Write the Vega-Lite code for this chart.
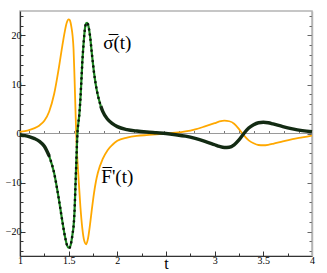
{
  "$schema": "https://vega.github.io/schema/vega-lite/v6.json",
  "width": 292,
  "height": 245,
  "autosize": {"type": "none"},
  "padding": {"left": 20, "top": 11, "right": 15, "bottom": 17},
  "config": {
    "view": {"stroke": "#b4b4b4", "strokeWidth": 1.5},
    "font": "Liberation Serif",
    "axis": {"labelFont": "Liberation Serif", "titleFont": "Liberation Serif", "labelColor": "#000", "titleColor": "#000", "grid": false}
  },
  "datasets": {
    "F": [
      {"t": 1.00, "v": 0.35}, {"t": 1.05, "v": 0.5}, {"t": 1.10, "v": 0.75}, {"t": 1.15, "v": 1.1},
      {"t": 1.20, "v": 1.65}, {"t": 1.25, "v": 2.6}, {"t": 1.30, "v": 4.5}, {"t": 1.35, "v": 8.0},
      {"t": 1.40, "v": 13.5}, {"t": 1.43, "v": 17.3}, {"t": 1.46, "v": 20.8}, {"t": 1.48, "v": 22.6},
      {"t": 1.50, "v": 23.3}, {"t": 1.51, "v": 23.2}, {"t": 1.52, "v": 22.6}, {"t": 1.53, "v": 21.5},
      {"t": 1.54, "v": 20.0}, {"t": 1.55, "v": 17.3}, {"t": 1.56, "v": 11.5}, {"t": 1.57, "v": 4.8},
      {"t": 1.58, "v": -1.5}, {"t": 1.59, "v": -5.5}, {"t": 1.60, "v": -8.6}, {"t": 1.62, "v": -14.8},
      {"t": 1.64, "v": -19.3}, {"t": 1.66, "v": -21.9}, {"t": 1.68, "v": -22.6}, {"t": 1.70, "v": -21.3},
      {"t": 1.72, "v": -18.5}, {"t": 1.74, "v": -15.2}, {"t": 1.76, "v": -12.2}, {"t": 1.78, "v": -9.8},
      {"t": 1.80, "v": -8.0}, {"t": 1.85, "v": -5.2}, {"t": 1.90, "v": -3.4}, {"t": 1.95, "v": -2.3},
      {"t": 2.00, "v": -1.5}, {"t": 2.10, "v": -0.85}, {"t": 2.20, "v": -0.5}, {"t": 2.30, "v": -0.32},
      {"t": 2.40, "v": -0.18}, {"t": 2.50, "v": -0.03}, {"t": 2.60, "v": 0.15}, {"t": 2.70, "v": 0.42},
      {"t": 2.80, "v": 0.85}, {"t": 2.90, "v": 1.45}, {"t": 3.00, "v": 2.1}, {"t": 3.05, "v": 2.45},
      {"t": 3.10, "v": 2.62}, {"t": 3.15, "v": 2.5}, {"t": 3.20, "v": 2.0}, {"t": 3.25, "v": 0.9},
      {"t": 3.30, "v": -0.4}, {"t": 3.35, "v": -1.4}, {"t": 3.40, "v": -2.0}, {"t": 3.45, "v": -2.35},
      {"t": 3.50, "v": -2.4}, {"t": 3.55, "v": -2.3}, {"t": 3.60, "v": -2.1}, {"t": 3.70, "v": -1.6},
      {"t": 3.80, "v": -1.15}, {"t": 3.90, "v": -0.8}, {"t": 4.00, "v": -0.45}
    ],
    "S": [
      {"t": 1.00, "v": -0.3}, {"t": 1.05, "v": -0.45}, {"t": 1.10, "v": -0.7}, {"t": 1.15, "v": -1.05},
      {"t": 1.20, "v": -1.6}, {"t": 1.25, "v": -2.6}, {"t": 1.30, "v": -4.6}, {"t": 1.35, "v": -8.0},
      {"t": 1.40, "v": -13.5}, {"t": 1.43, "v": -17.3}, {"t": 1.46, "v": -20.8}, {"t": 1.48, "v": -22.6},
      {"t": 1.50, "v": -23.3}, {"t": 1.51, "v": -23.3}, {"t": 1.52, "v": -22.8}, {"t": 1.53, "v": -21.8},
      {"t": 1.54, "v": -20.5}, {"t": 1.55, "v": -19.0}, {"t": 1.56, "v": -16.0}, {"t": 1.57, "v": -10.5},
      {"t": 1.58, "v": -5.0}, {"t": 1.59, "v": 0.0}, {"t": 1.60, "v": 2.2}, {"t": 1.61, "v": 4.0},
      {"t": 1.62, "v": 6.8}, {"t": 1.63, "v": 10.5}, {"t": 1.64, "v": 14.5}, {"t": 1.65, "v": 17.5},
      {"t": 1.66, "v": 20.0}, {"t": 1.67, "v": 21.8}, {"t": 1.68, "v": 22.5}, {"t": 1.69, "v": 22.6},
      {"t": 1.70, "v": 22.2}, {"t": 1.71, "v": 21.2}, {"t": 1.72, "v": 19.8}, {"t": 1.74, "v": 16.0},
      {"t": 1.76, "v": 12.5}, {"t": 1.78, "v": 9.8}, {"t": 1.80, "v": 7.8}, {"t": 1.83, "v": 5.6},
      {"t": 1.85, "v": 4.5}, {"t": 1.90, "v": 2.9}, {"t": 1.95, "v": 2.0}, {"t": 2.00, "v": 1.4},
      {"t": 2.10, "v": 0.8}, {"t": 2.20, "v": 0.5}, {"t": 2.30, "v": 0.3}, {"t": 2.40, "v": 0.15},
      {"t": 2.50, "v": 0.0}, {"t": 2.60, "v": -0.25}, {"t": 2.70, "v": -0.55}, {"t": 2.80, "v": -1.0},
      {"t": 2.90, "v": -1.6}, {"t": 3.00, "v": -2.3}, {"t": 3.05, "v": -2.65}, {"t": 3.10, "v": -2.85},
      {"t": 3.15, "v": -2.8}, {"t": 3.20, "v": -2.3}, {"t": 3.25, "v": -1.3}, {"t": 3.30, "v": 0.0},
      {"t": 3.35, "v": 1.1}, {"t": 3.40, "v": 1.8}, {"t": 3.45, "v": 2.2}, {"t": 3.50, "v": 2.3},
      {"t": 3.55, "v": 2.2}, {"t": 3.60, "v": 1.95}, {"t": 3.70, "v": 1.4}, {"t": 3.80, "v": 0.95},
      {"t": 3.90, "v": 0.6}, {"t": 4.00, "v": 0.35}
    ],
    "labels": [
      {"t": 2.0, "v": 18.4, "label": "σ̅(t)"},
      {"t": 2.0, "v": -8.8, "label": "F̅'(t)"}
    ]
  },
  "resolve": {"axis": {"x": "independent", "y": "independent"}},
  "layer": [
    {
      "data": {"name": "F"},
      "mark": {"type": "line", "color": "#ffa800", "strokeWidth": 1.8, "interpolate": "monotone", "clip": true},
      "encoding": {
        "x": {"field": "t", "type": "quantitative", "scale": {"domain": [1, 4], "nice": false, "zero": false},
          "axis": {"orient": "bottom", "title": "t", "titleFontSize": 16, "titleFontWeight": "normal", "titlePadding": -10,
            "values": [1, 1.25, 1.5, 1.75, 2, 2.25, 2.5, 2.75, 3, 3.25, 3.5, 3.75, 4],
            "format": "~g", "labelExpr": "(datum.value % 0.5 == 0 && datum.value != 2.5) ? datum.label : ''",
            "tickSize": {"condition": {"test": "datum.value % 0.5 == 0", "value": -5}, "value": -3},
            "labelFontSize": 10, "labelPadding": 4, "labelFlush": false,
            "domainColor": "#333", "tickColor": "#333", "domainWidth": 1.2}},
        "y": {"field": "v", "type": "quantitative", "scale": {"domain": [-25, 25], "nice": false},
          "axis": {"orient": "left", "title": null,
            "values": [-24, -22, -20, -18, -16, -14, -12, -10, -8, -6, -4, -2, 0, 2, 4, 6, 8, 10, 12, 14, 16, 18, 20, 22, 24],
            "labelExpr": "datum.value % 10 == 0 ? datum.label : ''",
            "tickSize": {"condition": {"test": "datum.value % 10 == 0", "value": -5}, "value": -3},
            "labelFontSize": 10, "labelPadding": 4, "domainColor": "#333", "tickColor": "#333", "domainWidth": 1.2}}
      }
    },
    {
      "data": {"name": "S"},
      "transform": [{"filter": "datum.t <= 1.31"}],
      "mark": {"type": "line", "color": "#132b13", "strokeWidth": 3.4, "interpolate": "monotone"},
      "encoding": {
        "x": {"field": "t", "type": "quantitative", "scale": {"domain": [1, 4], "nice": false, "zero": false},
          "axis": {"orient": "bottom", "title": null, "offset": -123, "labels": false,
            "values": [1.09, 1.244, 1.398, 1.552, 1.706, 1.86, 2.014, 2.168, 2.322, 2.476, 2.63, 2.784, 2.938, 3.092, 3.246, 3.4, 3.554, 3.708, 3.862],
            "tickSize": -2.5, "domainColor": "#9a9a9a", "tickColor": "#777", "domainWidth": 1.2}},
        "y": {"field": "v", "type": "quantitative", "scale": {"domain": [-25, 25], "nice": false},
          "axis": {"orient": "right", "title": null, "labels": false,
            "values": [-24, -22, -20, -18, -16, -14, -12, -10, -8, -6, -4, -2, 0, 2, 4, 6, 8, 10, 12, 14, 16, 18, 20, 22, 24],
            "tickSize": {"condition": {"test": "datum.value % 10 == 0", "value": -5}, "value": -3},
            "domainColor": "#b4b4b4", "tickColor": "#666", "domainWidth": 1.5}}
      }
    },
    {
      "data": {"name": "S"},
      "transform": [{"filter": "datum.t >= 1.82"}],
      "mark": {"type": "line", "color": "#132b13", "strokeWidth": 3.4, "interpolate": "monotone"},
      "encoding": {
        "x": {"field": "t", "type": "quantitative", "scale": {"domain": [1, 4]}, "axis": null},
        "y": {"field": "v", "type": "quantitative", "scale": {"domain": [-25, 25]}, "axis": null}
      }
    },
    {
      "data": {"name": "S"},
      "transform": [{"filter": "datum.t >= 1.29 && datum.t <= 1.84"}],
      "mark": {"type": "line", "color": "#1f8a22", "strokeWidth": 2.2, "interpolate": "monotone"},
      "encoding": {
        "x": {"field": "t", "type": "quantitative", "scale": {"domain": [1, 4]}, "axis": null},
        "y": {"field": "v", "type": "quantitative", "scale": {"domain": [-25, 25]}, "axis": null}
      }
    },
    {
      "data": {"name": "S"},
      "transform": [{"filter": "datum.t >= 1.29 && datum.t <= 1.84"}],
      "mark": {"type": "line", "color": "#0b160b", "strokeWidth": 2.6, "strokeCap": "round", "strokeDash": [0.1, 5.2], "interpolate": "monotone"},
      "encoding": {
        "x": {"field": "t", "type": "quantitative", "scale": {"domain": [1, 4]}, "axis": null},
        "y": {"field": "v", "type": "quantitative", "scale": {"domain": [-25, 25]}, "axis": null}
      }
    },
    {
      "data": {"name": "labels"},
      "mark": {"type": "text", "font": "Liberation Serif", "fontSize": 19, "color": "#000", "align": "center", "baseline": "middle"},
      "encoding": {
        "x": {"field": "t", "type": "quantitative", "scale": {"domain": [1, 4]}, "axis": null},
        "y": {"field": "v", "type": "quantitative", "scale": {"domain": [-25, 25]}, "axis": null},
        "text": {"field": "label"}
      }
    }
  ]
}
